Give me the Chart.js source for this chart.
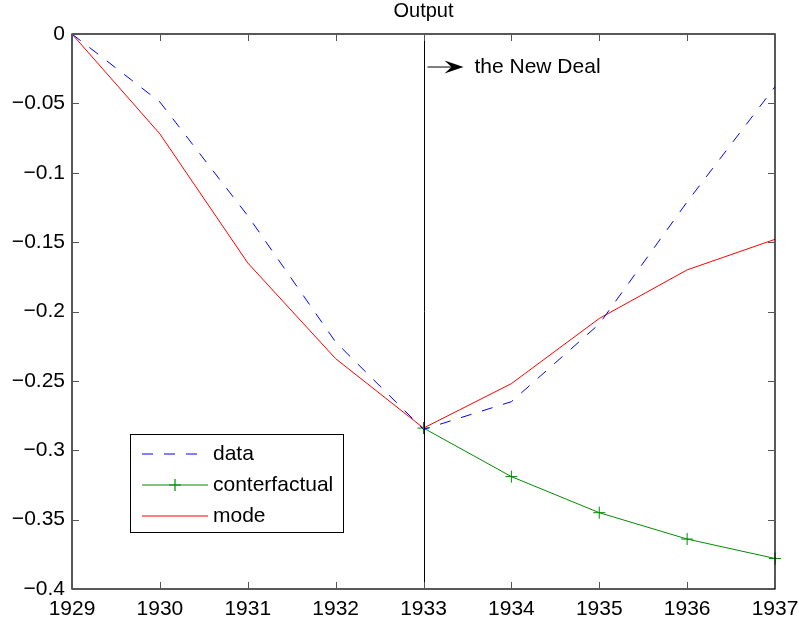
<!DOCTYPE html>
<html>
<head>
<meta charset="utf-8">
<script src="https://cdn.jsdelivr.net/npm/chart.js@4.4.1/dist/chart.umd.min.js"></script>
<style>
html,body{margin:0;padding:0;background:#fff;}
#wrap{width:799px;height:623px;}
</style>
</head>
<body>
<div id="wrap"><canvas id="c" width="799" height="623"></canvas></div>
<script>
const years = ['1929','1930','1931','1932','1933','1934','1935','1936','1937'];
const dataSeries = [0, -0.049, -0.131, -0.222, -0.285, -0.265, -0.209, -0.121, -0.038];
const counterfactual = [null, null, null, null, -0.284, -0.319, -0.345, -0.364, -0.378];
const modelSeries = [0, -0.072, -0.165, -0.234, -0.284, -0.252, -0.205, -0.170, -0.148];
const yTicks = [0, -0.05, -0.1, -0.15, -0.2, -0.25, -0.3, -0.35, -0.4];
const titleText = 'Output';
const eventYear = '1933';
const eventLabel = 'the New Deal';

const FONT = '"Liberation Sans", Arial, Helvetica, sans-serif';
const FS = 21;

function fmt(v){
  const r = Math.round(v*100)/100;
  if (r === 0) return '0';
  return (r < 0 ? '\u2212' : '') + String(Math.abs(r));
}

const framePlugin = {
  id: 'frame',
  afterDatasetsDraw(chart){
    const ctx = chart.ctx, a = chart.chartArea;
    const xs = chart.scales.x, ys = chart.scales.y;
    ctx.save();
    // event vertical line
    const ex = xs.getPixelForValue(years.indexOf(eventYear));
    ctx.strokeStyle = '#000'; ctx.lineWidth = 1;
    ctx.beginPath(); ctx.moveTo(Math.round(ex)+0.5, a.top); ctx.lineTo(Math.round(ex)+0.5, a.bottom); ctx.stroke();
    // arrow + label
    const ay = ys.getPixelForValue(-0.0238);
    const ax0 = ex + 4, tip = ex + 40;
    ctx.beginPath(); ctx.moveTo(ax0, ay); ctx.lineTo(tip - 8, ay); ctx.stroke();
    ctx.fillStyle = '#000';
    ctx.beginPath();
    ctx.moveTo(tip, ay); ctx.lineTo(tip - 19, ay - 6.5); ctx.lineTo(tip - 12, ay); ctx.lineTo(tip - 19, ay + 6.5); ctx.closePath(); ctx.fill();
    ctx.font = FS + 'px ' + FONT;
    ctx.textBaseline = 'middle'; ctx.textAlign = 'left';
    ctx.fillText(eventLabel, ex + 51, ay);
    // frame
    ctx.lineWidth = 1.3;
    ctx.strokeRect(a.left, a.top, a.right - a.left, a.bottom - a.top);
    // inward ticks
    ctx.lineWidth = 1;
    ctx.strokeStyle = '#555';
    const TL = 7;
    for (let i = 0; i < years.length; i++){
      const x = Math.round(xs.getPixelForValue(i)) + 0.5;
      ctx.beginPath(); ctx.moveTo(x, a.bottom); ctx.lineTo(x, a.bottom - TL);
      ctx.moveTo(x, a.top); ctx.lineTo(x, a.top + TL); ctx.stroke();
    }
    yTicks.forEach(v => {
      const y = Math.round(ys.getPixelForValue(v)) + 0.5;
      ctx.beginPath(); ctx.moveTo(a.left, y); ctx.lineTo(a.left + TL, y);
      ctx.moveTo(a.right, y); ctx.lineTo(a.right - TL, y); ctx.stroke();
    });
    // title
    ctx.fillStyle = '#000';
    ctx.font = '20px ' + FONT;
    ctx.textAlign = 'center'; ctx.textBaseline = 'middle';
    ctx.fillText(titleText, (a.left + a.right)/2, 11);
    // legend
    const lx = 130, ly = 434, lw = 213, lh = 98;
    ctx.fillStyle = '#fff';
    ctx.fillRect(lx, ly, lw, lh);
    ctx.strokeStyle = '#000'; ctx.lineWidth = 1;
    ctx.strokeRect(lx + 0.5, ly + 0.5, lw, lh);
    chart.data.datasets.forEach((ds, i) => {
      const cy = ly + 20 + i * 31;
      const col = ds.borderColor;
      ctx.strokeStyle = col; ctx.lineWidth = 1.2;
      ctx.setLineDash(ds.borderDash || []);
      ctx.beginPath(); ctx.moveTo(lx + 12, cy); ctx.lineTo(lx + 78, cy); ctx.stroke();
      ctx.setLineDash([]);
      if (ds.pointStyle === 'cross'){
        const mx = lx + 45;
        ctx.strokeStyle = col;
        ctx.beginPath(); ctx.moveTo(mx - 6, cy); ctx.lineTo(mx + 6, cy);
        ctx.moveTo(mx, cy - 6); ctx.lineTo(mx, cy + 6); ctx.stroke();
      }
      ctx.fillStyle = '#000';
      ctx.font = FS + 'px ' + FONT;
      ctx.textAlign = 'left'; ctx.textBaseline = 'middle';
      ctx.fillText(ds.label, lx + 83, cy);
    });
    ctx.restore();
  }
};

new Chart(document.getElementById('c'), {
  type: 'line',
  data: {
    labels: years,
    datasets: [
      { label: 'data', data: dataSeries, borderColor: 'rgb(0,0,255)', borderWidth: 1, borderDash: [11, 11], pointRadius: 0, fill: false, tension: 0 },
      { label: 'conterfactual', data: counterfactual, borderColor: 'rgb(0,140,0)', borderWidth: 1, pointStyle: 'cross', pointRadius: 6, pointBorderWidth: 1, pointBorderColor: 'rgb(0,140,0)', fill: false, tension: 0, spanGaps: false },
      { label: 'mode', data: modelSeries, borderColor: 'rgb(255,0,0)', borderWidth: 1, pointRadius: 0, fill: false, tension: 0 }
    ]
  },
  options: {
    responsive: false,
    animation: false,
    devicePixelRatio: 1,
    layout: { padding: { top: 34, right: 24, left: 0, bottom: 0 } },
    plugins: { legend: { display: false }, title: { display: false }, tooltip: { enabled: false } },
    scales: {
      x: {
        type: 'category',
        offset: false,
        grid: { display: false, drawTicks: false },
        border: { display: false },
        ticks: { color: '#000', font: { family: FONT, size: FS }, padding: 8, maxRotation: 0, autoSkip: false },
        afterFit(s){ s.height = 34; s.paddingLeft = 0; s.paddingRight = 0; }
      },
      y: {
        type: 'linear',
        min: -0.4, max: 0,
        grid: { display: false, drawTicks: false },
        border: { display: false },
        afterBuildTicks(s){ s.ticks = yTicks.map(v => ({ value: v })); },
        ticks: { color: '#000', font: { family: FONT, size: FS }, padding: 7, callback: v => fmt(v) },
        afterFit(s){ s.width = 72; s.paddingTop = 0; s.paddingBottom = 0; }
      }
    }
  },
  plugins: [framePlugin]
});
</script>
</body>
</html>
